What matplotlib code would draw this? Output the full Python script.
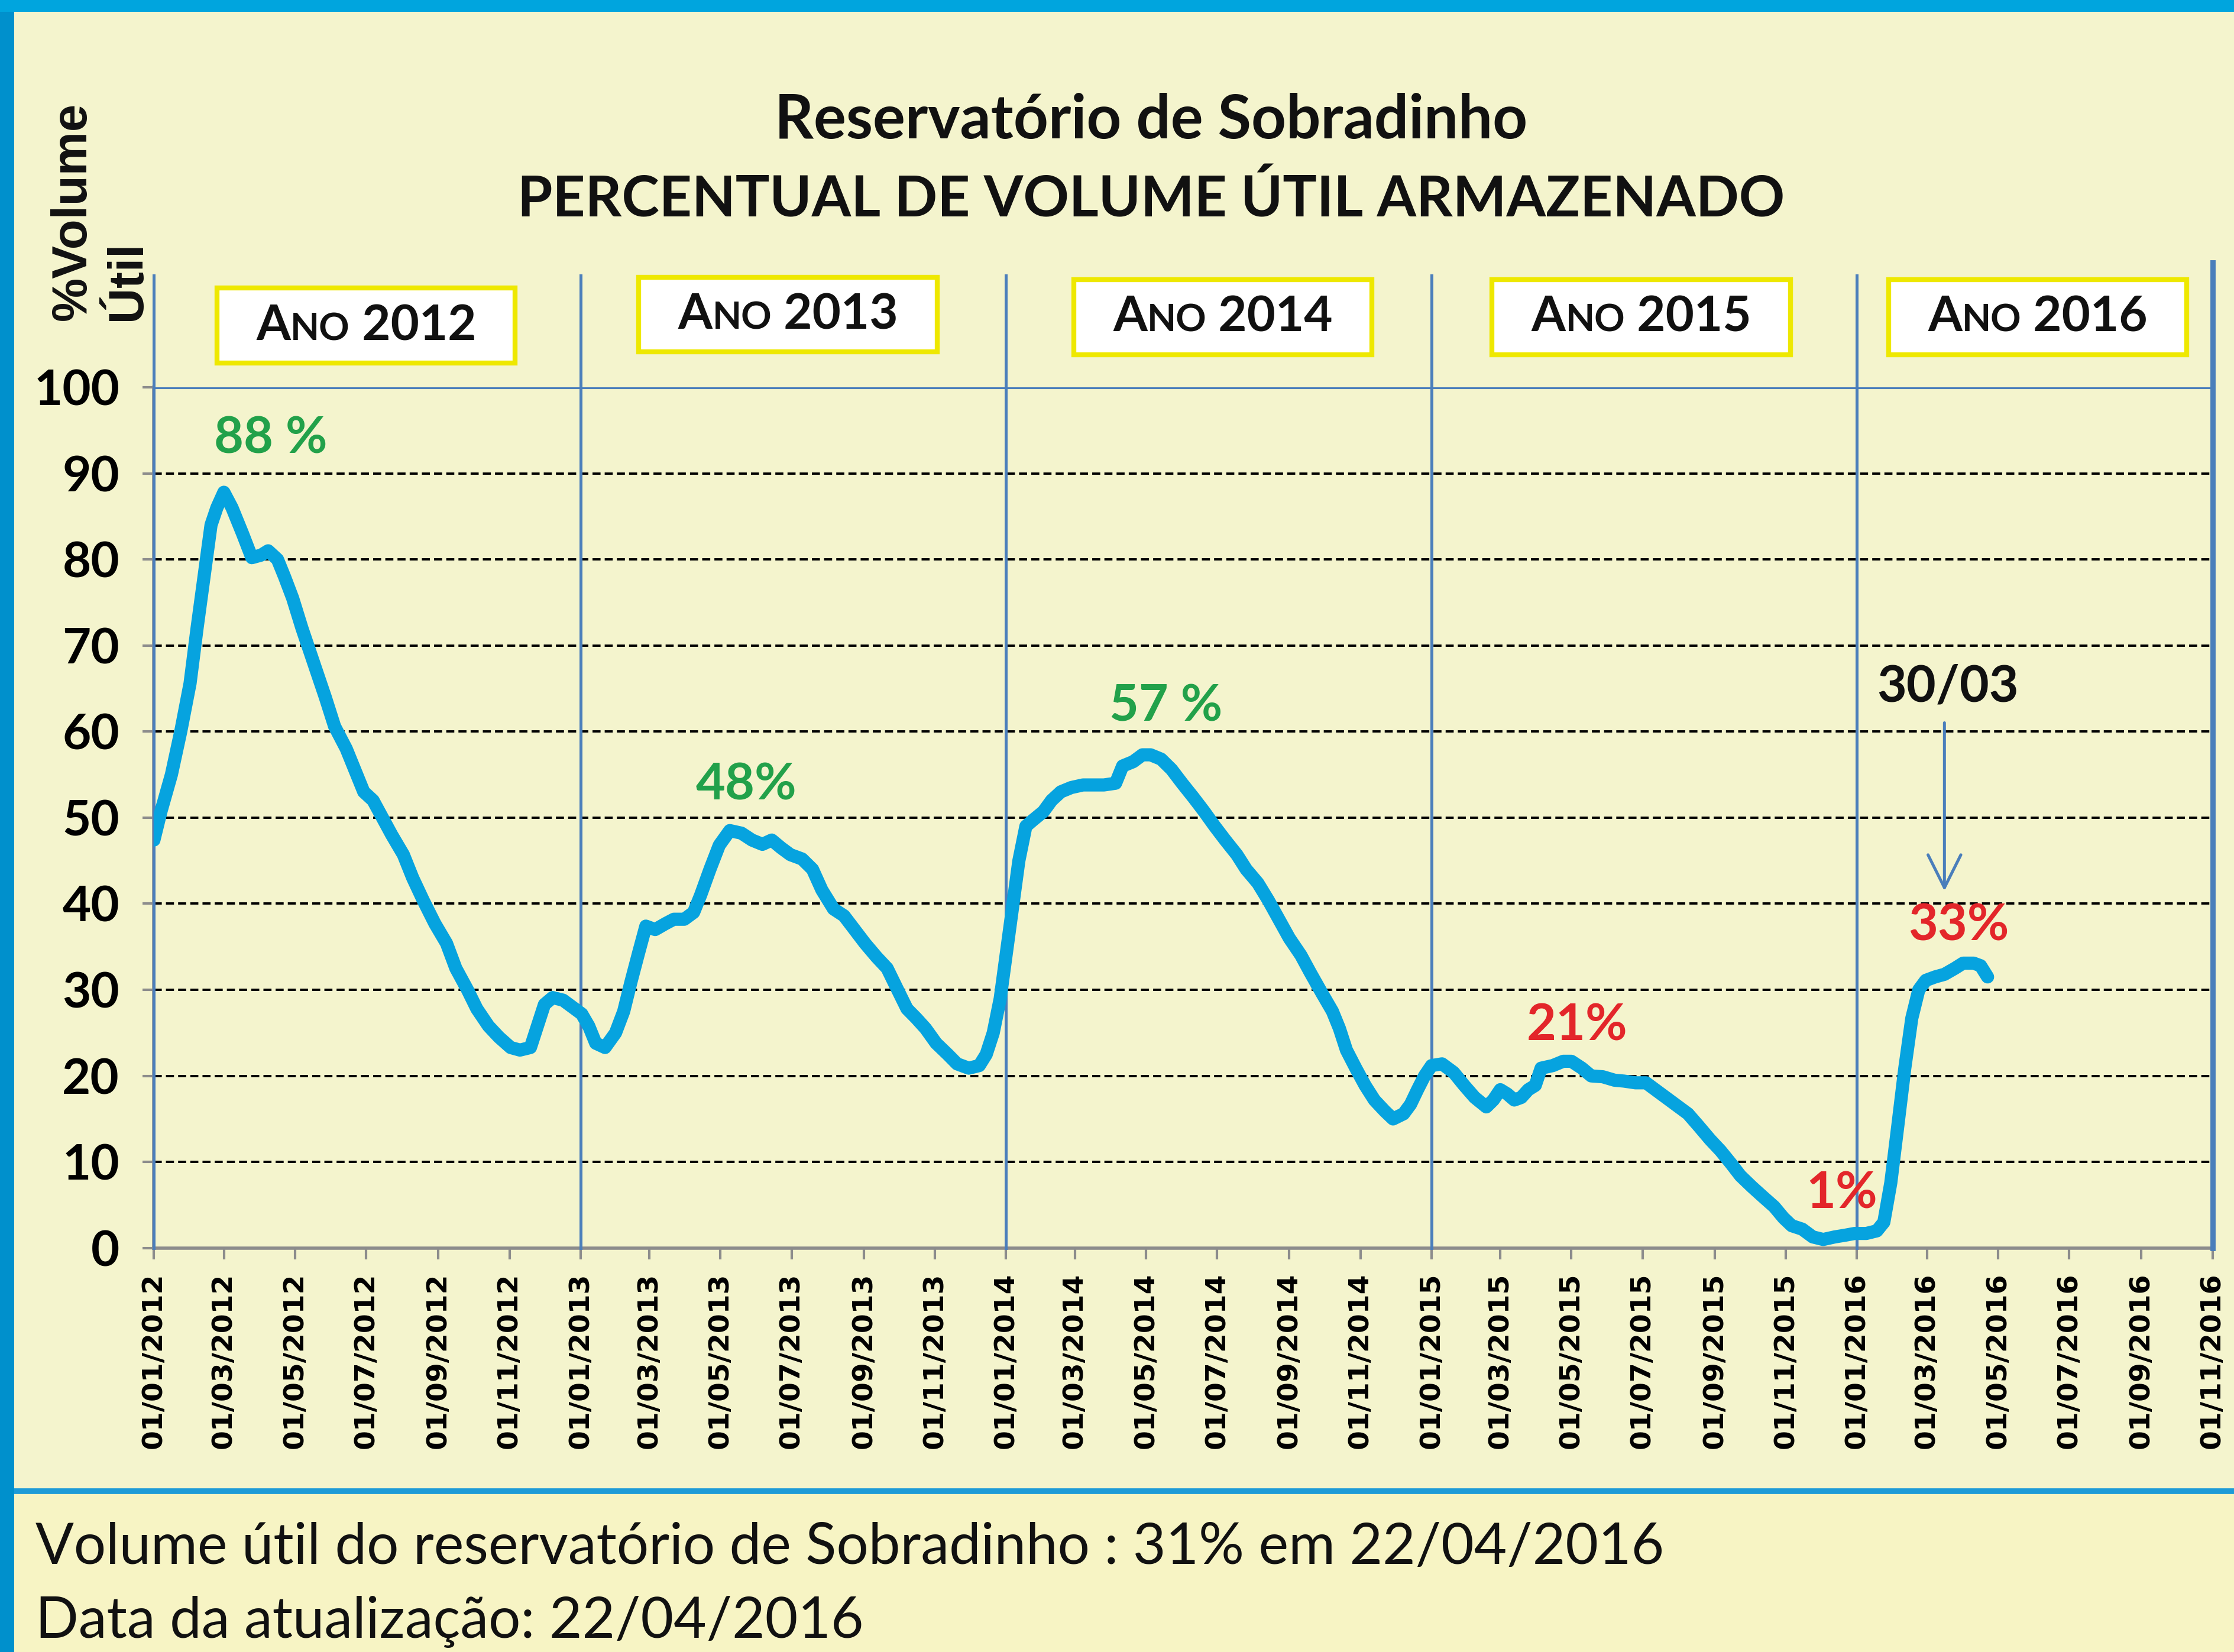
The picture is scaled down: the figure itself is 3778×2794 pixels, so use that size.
import matplotlib
matplotlib.use("Agg")
import matplotlib.pyplot as plt
import matplotlib.dates as mdates
import matplotlib.transforms as mtransforms
from matplotlib.patches import Rectangle
from matplotlib.lines import Line2D
from matplotlib.offsetbox import TextArea, HPacker, AnnotationBbox
import pandas as pd

plt.rcParams['font.family'] = ['Lato', 'DejaVu Sans']

# volume util armazenado (%)
datas = [
    '2012-01-01', '2012-01-07', '2012-01-16', '2012-01-24', '2012-02-01', '2012-02-07',
    '2012-02-13', '2012-02-19', '2012-02-24', '2012-03-01', '2012-03-08', '2012-03-17',
    '2012-03-25', '2012-04-02', '2012-04-08', '2012-04-16', '2012-04-22', '2012-04-29',
    '2012-05-07', '2012-05-17', '2012-05-27', '2012-06-04', '2012-06-14', '2012-06-23',
    '2012-06-29', '2012-07-07', '2012-07-15', '2012-07-23', '2012-08-02', '2012-08-10',
    '2012-08-19', '2012-08-29', '2012-09-08', '2012-09-16', '2012-09-26', '2012-10-04',
    '2012-10-14', '2012-10-23', '2012-11-02', '2012-11-10', '2012-11-19', '2012-11-25',
    '2012-12-01', '2012-12-08', '2012-12-17', '2012-12-25', '2013-01-02', '2013-01-08',
    '2013-01-14', '2013-01-22', '2013-01-31', '2013-02-07', '2013-02-13', '2013-02-20',
    '2013-02-26', '2013-03-06', '2013-03-15', '2013-03-22', '2013-03-31', '2013-04-08',
    '2013-04-14', '2013-04-22', '2013-04-30', '2013-05-09', '2013-05-19', '2013-05-28',
    '2013-06-06', '2013-06-14', '2013-06-22', '2013-06-30', '2013-07-10', '2013-07-19',
    '2013-07-27', '2013-08-06', '2013-08-15', '2013-08-24', '2013-09-02', '2013-09-12',
    '2013-09-21', '2013-09-30', '2013-10-08', '2013-10-16', '2013-10-24', '2013-11-02',
    '2013-11-12', '2013-11-20', '2013-11-30', '2013-12-09', '2013-12-15', '2013-12-21',
    '2013-12-27', '2014-01-02', '2014-01-07', '2014-01-12', '2014-01-18', '2014-01-24',
    '2014-02-02', '2014-02-09', '2014-02-17', '2014-02-26', '2014-03-08', '2014-03-18',
    '2014-03-26', '2014-04-05', '2014-04-11', '2014-04-20', '2014-04-28', '2014-05-05',
    '2014-05-14', '2014-05-23', '2014-06-01', '2014-06-11', '2014-06-20', '2014-06-29',
    '2014-07-08', '2014-07-18', '2014-07-26', '2014-08-05', '2014-08-14', '2014-08-23',
    '2014-09-01', '2014-09-11', '2014-09-19', '2014-09-29', '2014-10-08', '2014-10-14',
    '2014-10-20', '2014-10-28', '2014-11-05', '2014-11-13', '2014-11-22', '2014-11-29',
    '2014-12-08', '2014-12-14', '2014-12-20', '2014-12-26', '2015-01-01', '2015-01-10',
    '2015-01-20', '2015-01-29', '2015-02-07', '2015-02-17', '2015-02-23', '2015-03-01',
    '2015-03-07', '2015-03-13', '2015-03-19', '2015-03-25', '2015-03-31', '2015-04-05',
    '2015-04-15', '2015-04-24', '2015-05-01', '2015-05-10', '2015-05-18', '2015-05-28',
    '2015-06-07', '2015-06-15', '2015-06-25', '2015-07-04', '2015-07-12', '2015-07-22',
    '2015-08-01', '2015-08-09', '2015-08-18', '2015-08-28', '2015-09-06', '2015-09-15',
    '2015-09-23', '2015-10-03', '2015-10-12', '2015-10-22', '2015-10-30', '2015-11-06',
    '2015-11-15', '2015-11-24', '2015-12-03', '2015-12-13', '2015-12-22', '2015-12-30',
    '2016-01-09', '2016-01-18', '2016-01-24', '2016-01-30', '2016-02-05', '2016-02-11',
    '2016-02-17', '2016-02-23', '2016-02-29', '2016-03-08', '2016-03-16', '2016-03-25',
    '2016-04-01', '2016-04-10', '2016-04-16', '2016-04-22',
]
volume = [
    47.4, 50.7, 55.0, 60.0, 65.6, 72.0,
    78.0, 84.0, 86.0, 87.8, 86.0, 83.0,
    80.2, 80.5, 81.0, 80.0, 78.0, 75.5,
    72.0, 68.0, 64.0, 60.6, 58.0, 55.0,
    53.0, 52.0, 50.0, 48.0, 45.7, 43.0,
    40.4, 37.7, 35.4, 32.5, 30.0, 27.8,
    25.8, 24.5, 23.3, 23.0, 23.3, 25.8,
    28.3, 29.1, 28.8, 28.0, 27.2, 25.8,
    23.8, 23.3, 25.0, 27.5, 30.8, 34.4,
    37.4, 37.0, 37.7, 38.2, 38.2, 39.0,
    41.0, 44.0, 46.8, 48.5, 48.2, 47.4,
    46.9, 47.4, 46.5, 45.7, 45.2, 44.0,
    41.6, 39.4, 38.6, 37.0, 35.4, 33.8,
    32.5, 30.0, 27.8, 26.7, 25.5, 23.8,
    22.5, 21.4, 20.9, 21.2, 22.5, 25.0,
    29.0, 35.0, 40.0, 45.0, 49.0, 49.7,
    50.7, 52.0, 53.0, 53.5, 53.8, 53.8,
    53.8, 54.0, 56.0, 56.5, 57.3, 57.3,
    56.8, 55.6, 54.0, 52.3, 50.7, 49.0,
    47.4, 45.7, 44.0, 42.4, 40.4, 38.2,
    36.0, 34.0, 32.0, 29.6, 27.5, 25.5,
    23.0, 20.9, 18.9, 17.2, 15.9, 15.0,
    15.6, 16.7, 18.4, 20.0, 21.2, 21.4,
    20.4, 18.9, 17.5, 16.4, 17.2, 18.4,
    17.9, 17.2, 17.5, 18.4, 18.9, 20.9,
    21.2, 21.7, 21.7, 20.9, 20.0, 19.9,
    19.5, 19.4, 19.2, 19.2, 18.4, 17.4,
    16.4, 15.6, 14.2, 12.6, 11.3, 9.8,
    8.4, 7.1, 6.0, 4.8, 3.5, 2.6,
    2.2, 1.3, 1.0, 1.3, 1.5, 1.7,
    1.7, 2.0, 3.0, 7.6, 14.2, 20.9,
    26.7, 30.0, 31.1, 31.5, 31.8, 32.5,
    33.1, 33.1, 32.8, 31.5,
]

anos = ['2012', '2013', '2014', '2015', '2016']
centro_caixa = ['2012-07-01', '2013-06-28', '2014-07-06', '2015-06-30', '2016-06-04']
base_caixa = [1.028, 1.041, 1.038, 1.038, 1.038]
divisoes = ['2012-01-01', '2013-01-01', '2014-01-01', '2015-01-01', '2016-01-01']

verde = '#22A14A'
vermelho = '#E3262A'
rotulos = ['88 %', '48%', '57 %', '21%', '1%', '33%']
rotulo_datas = ['2012-04-10', '2013-05-23', '2014-05-18', '2015-05-06', '2015-12-19', '2016-03-28']
rotulo_y = [94.0, 53.8, 62.9, 25.8, 6.3, 37.4]
rotulo_cor = [verde, verde, verde, vermelho, vermelho, vermelho]

azul_linha = '#4A7EBB'
fundo = '#F4F4CD'

fig = plt.figure(figsize=(18.89, 13.97), dpi=200)
fig.patch.set_facecolor(fundo)

# faixa inferior, bordas
fig.patches.append(Rectangle((0, 0), 1, 0.0974, transform=fig.transFigure,
                             fc='#F7F4C4', ec='none', zorder=0))
fig.add_artist(Line2D([0, 1], [0.0974, 0.0974], transform=fig.transFigure,
                      color='#1E9BD7', lw=3.5))
fig.patches.append(Rectangle((0, 0), 0.0064, 1, transform=fig.transFigure,
                             fc='#0090CC', ec='none', zorder=3))
fig.patches.append(Rectangle((0, 0.9928), 1, 0.0072, transform=fig.transFigure,
                             fc='#00A5DE', ec='none', zorder=3))

ax = fig.add_axes([0.0689, 0.2445, 0.9215, 0.5211])
ax.patch.set_alpha(0)

x = pd.to_datetime(datas)
ax.plot(x, volume, color='#06A3DF', lw=8, solid_capstyle='round',
        solid_joinstyle='round', zorder=5)

ax.set_xlim(pd.Timestamp('2012-01-01'), pd.Timestamp('2016-11-01'))
ax.set_ylim(0, 100)
ax.set_yticks(range(0, 101, 10))
ax.xaxis.set_major_locator(mdates.MonthLocator(bymonth=[1, 3, 5, 7, 9, 11]))
ax.xaxis.set_major_formatter(mdates.DateFormatter('%d/%m/%Y'))

ax.grid(axis='y', color='black', linestyle=(0, (3.5, 1.8)), lw=1.4)
ax.grid(axis='x', visible=False)
ax.axhline(100, color=azul_linha, lw=2.2, zorder=4)

for s in ['top', 'right']:
    ax.spines[s].set_visible(False)
for s in ['left', 'bottom']:
    ax.spines[s].set_color('#8C8C8C')
    ax.spines[s].set_linewidth(2)

ax.tick_params(axis='x', direction='out', length=7, width=1.5, color='#8C8C8C', pad=8)
ax.tick_params(axis='y', direction='out', length=7, width=1.5, color='#8C8C8C', pad=14)
for lab in ax.get_xticklabels():
    lab.set_rotation(90)
    lab.set_fontfamily('DejaVu Sans')
    lab.set_fontweight('bold')
    lab.set_fontsize(17)
for lab in ax.get_yticklabels():
    lab.set_fontweight('bold')
    lab.set_fontsize(30)

trans = mtransforms.blended_transform_factory(ax.transData, ax.transAxes)

# divisoes dos anos
for d in divisoes:
    xd = mdates.date2num(pd.Timestamp(d))
    ax.plot([xd, xd], [0, 1.13], transform=trans, color=azul_linha, lw=1.8,
            clip_on=False, zorder=4)
xf = mdates.date2num(pd.Timestamp('2016-11-01'))
ax.plot([xf, xf], [0, 1.145], transform=trans, color=azul_linha, lw=3.2,
        clip_on=False, zorder=4)

# caixas dos anos
for ano, c, b in zip(anos, centro_caixa, base_caixa):
    xc = mdates.date2num(pd.Timestamp(c))
    ax.add_patch(Rectangle((xc - 128, b), 256, 0.087, transform=trans,
                           fc='white', ec='#EEE800', lw=3, clip_on=False, zorder=6))
    grande = dict(fontsize=30, fontweight='bold', color='#111111')
    pequeno = dict(fontsize=23, fontweight='bold', color='#111111')
    pack = HPacker(children=[TextArea('A', textprops=grande),
                             TextArea('NO', textprops=pequeno),
                             TextArea(' ' + ano, textprops=grande)],
                   align='baseline', pad=0, sep=0)
    ab = AnnotationBbox(pack, (xc, b + 0.043), xycoords=trans, frameon=False,
                        box_alignment=(0.5, 0.5), annotation_clip=False, zorder=7)
    ax.add_artist(ab)

# rotulos
for t, d, yv, cor in zip(rotulos, rotulo_datas, rotulo_y, rotulo_cor):
    ax.text(pd.Timestamp(d), yv, t, color=cor, fontsize=31, fontweight='bold',
            ha='center', va='center', zorder=7)

ax.text(pd.Timestamp('2016-03-19'), 65.2, '30/03', color='#111111', fontsize=31,
        fontweight='bold', ha='center', va='center', zorder=7)
ax.annotate('', xy=(pd.Timestamp('2016-03-16'), 41.1),
            xytext=(pd.Timestamp('2016-03-16'), 61.4),
            arrowprops=dict(arrowstyle='->,head_length=0.5,head_width=0.25',
                            color=azul_linha, lw=1.8, mutation_scale=40), zorder=7)

# titulos
fig.text(0.5153, 0.9270, 'Reservatório de Sobradinho', ha='center', va='center',
         fontsize=37, fontweight='bold', color='#111111')
fig.text(0.5153, 0.8793, 'PERCENTUAL DE VOLUME ÚTIL ARMAZENADO', ha='center',
         va='center', fontsize=34.5, fontweight='bold', color='#111111')

fig.text(0.0223, 0.806, '%Volume\nÚtil', rotation=90, ha='left', va='bottom',
         multialignment='left', fontsize=30, fontweight='bold',
         family='Liberation Sans', linespacing=1.25, color='#111111')

fig.text(0.016, 0.0534, 'Volume útil do reservatório de Sobradinho : 31% em 22/04/2016',
         ha='left', va='baseline', fontsize=34.5, color='#111111')
fig.text(0.016, 0.0086, 'Data da atualização: 22/04/2016',
         ha='left', va='baseline', fontsize=34.5, color='#111111')

fig.savefig('out.png', dpi=200, facecolor=fig.get_facecolor())
